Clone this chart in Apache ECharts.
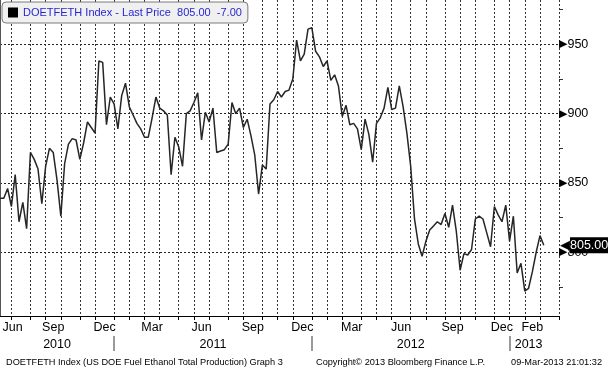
<!DOCTYPE html>
<html>
<head>
<meta charset="utf-8">
<title>DOETFETH Index</title>
<script src="https://cdn.jsdelivr.net/npm/echarts@6/dist/echarts.min.js"></script>
<style>
  html, body { margin: 0; padding: 0; background: #fff; }
  #chart_1 { width: 608px; height: 368px; }
</style>
</head>
<body>
<div id="chart_1"></div>
<script>
// weekly readings (Fridays), US DOE fuel ethanol production, thousand b/d
var startDate = '2010-06-11';
var padWeeks = 4; // empty weeks on the right of the last reading
var production = [
  839, 839, 846, 833, 856, 822, 836, 817, 872, 867, 860, 835, 862, 875, 872, 852,
  826, 864, 878, 882, 881, 867, 879, 894, 890, 886, 938, 937, 892, 912, 907, 889,
  913, 922, 905, 899, 893, 889, 883, 883, 897, 912, 904, 902, 899, 856, 883, 876,
  862, 900, 902, 908, 915, 881, 901, 894, 904, 872, 873, 874, 878, 908, 900, 904,
  890, 896, 884, 870, 842, 863, 860, 907, 910, 916, 912, 916, 917, 925, 953, 938,
  943, 961, 962, 945, 941, 934, 938, 924, 928, 920, 898, 906, 892, 893, 889, 874,
  896, 885, 865, 893, 897, 904, 919, 903, 904, 920, 905, 886, 862, 824, 806, 797,
  808, 816, 819, 822, 820, 828, 818, 834, 815, 787, 799, 798, 802, 824, 826, 824,
  814, 804, 833, 827, 822, 834, 808, 826, 785, 792, 772, 774, 786, 800, 812, 805
];
var lastPrice = 805.00;
var netChange = -7.00;
var seriesName = 'DOETFETH Index - Last Price';

var yTicks = [800, 850, 900, 950];
var yMinorTicks = [775, 825, 875, 925, 975];
var monthKeys = ['2010-06', '2010-09', '2010-12', '2011-03', '2011-06', '2011-09',
                 '2011-12', '2012-03', '2012-06', '2012-09', '2012-12', '2013-02'];
var monthNames = ['Jun', 'Sep', 'Dec', 'Mar', 'Jun', 'Sep', 'Dec', 'Mar', 'Jun', 'Sep', 'Dec', 'Feb'];
var yearNames = ['2010', '2011', '2012', '2013'];

var footLeft = 'DOETFETH Index (US DOE Fuel Ethanol Total Production) Graph 3';
var footMid = 'Copyright\u00a9 2013 Bloomberg Finance L.P.';
var footRight = '09-Mar-2013 21:01:32';

function pad2(n) { return n < 10 ? '0' + n : '' + n; }

var weeks = [];
var t0 = new Date(startDate + 'T00:00:00Z').getTime();
for (var i = 0; i < production.length + padWeeks; i++) {
    var d = new Date(t0 + i * 7 * 86400000);
    weeks.push(d.getUTCFullYear() + '-' + pad2(d.getUTCMonth() + 1) + '-' + pad2(d.getUTCDate()));
}
var values = production.slice();
for (var k = 0; k < padWeeks; k++) values.push(null);

// first weekly point of every month and year
var monthStart = {};
var monthStartList = [];
var isMonthStart = [];
var yearStart = [];
for (var i = 0; i < weeks.length; i++) {
    var key = weeks[i].slice(0, 7);
    if (!(key in monthStart)) {
        monthStart[key] = i;
        monthStartList.push(i);
        isMonthStart.push(i > 0);
        if (i > 0 && weeks[i].slice(0, 4) !== weeks[i - 1].slice(0, 4)) yearStart.push(i);
    } else {
        isMonthStart.push(false);
    }
}

// month labels sit in the middle of their month
var labelText = {};
var monthPos = [];
monthKeys.forEach(function (key, n) {
    var s = monthStart[key];
    var e = weeks.length - 1;
    for (var j = 0; j < monthStartList.length; j++) {
        if (monthStartList[j] > s) { e = monthStartList[j]; break; }
    }
    var p = Math.max((s + e) / 2, 3.3);
    monthPos.push(p);
    labelText[p.toFixed(2)] = monthNames[n];
});
var yearPos = [];
yearNames.forEach(function (y, n) {
    var s = n === 0 ? 0 : yearStart[n - 1];
    var e = n < yearStart.length ? yearStart[n] : production.length;
    var p = (s + e) / 2;
    yearPos.push(p);
    labelText[p.toFixed(2)] = y;
});

var tickFn = function (index) { return isMonthStart[index]; };
var fontName = 'Liberation Sans, Arial, sans-serif';
var gridRight = 49;
var plotWidth = 608 - gridRight;

var myChart = echarts.init(document.getElementById('chart_1'));
var option = {
    animation: false,
    backgroundColor: '#fff',
    textStyle: { fontFamily: fontName },
    title: [
        { text: footLeft, left: 1, top: 353, textStyle: { fontSize: 9.2, fontWeight: 'normal', color: '#000', fontFamily: fontName } },
        { text: footMid, left: 311, top: 353, textStyle: { fontSize: 9.2, fontWeight: 'normal', color: '#000', fontFamily: fontName } },
        { text: footRight, right: 1, top: 353, textStyle: { fontSize: 9.2, fontWeight: 'normal', color: '#000', fontFamily: fontName } }
    ],
    legend: {
        left: 2,
        top: 2,
        padding: [5, 6, 5, 6],
        backgroundColor: '#f0f0f0',
        borderColor: '#7a7a7a',
        borderWidth: 1,
        borderRadius: 4,
        itemWidth: 10,
        itemHeight: 10,
        selectedMode: false,
        data: [{ name: seriesName, icon: 'rect', itemStyle: { color: '#000' } }],
        formatter: function (name) {
            return name + '  ' + lastPrice.toFixed(2) + '  ' + netChange.toFixed(2);
        },
        textStyle: { color: '#2727d0', fontSize: 11, fontFamily: fontName }
    },
    grid: { left: 0, right: gridRight, top: 0, bottom: 52, outerBoundsMode: 'none' },
    xAxis: [
        {
            type: 'category',
            data: weeks,
            boundaryGap: false,
            axisLine: { show: true, lineStyle: { color: '#000', width: 1 } },
            axisTick: { show: true, interval: tickFn, length: 4, lineStyle: { color: '#000' } },
            axisLabel: { show: false },
            splitLine: { show: true, interval: tickFn, lineStyle: { color: '#333', type: [2, 2], width: 1 } }
        },
        {
            type: 'value',
            min: 0,
            max: weeks.length - 1,
            position: 'bottom',
            axisLine: { show: false },
            axisTick: { show: false },
            splitLine: { show: false },
            axisLabel: {
                customValues: monthPos,
                margin: 5,
                fontSize: 12.5,
                color: '#000',
                formatter: function (v) { return labelText[v.toFixed(2)] || ''; }
            }
        },
        {
            type: 'value',
            min: 0,
            max: weeks.length - 1,
            position: 'bottom',
            offset: 20,
            axisLine: { show: false },
            axisTick: { show: true, customValues: yearStart, length: 15, lineStyle: { color: '#9a9a9a', width: 2 } },
            splitLine: { show: false },
            axisLabel: {
                customValues: yearPos,
                margin: 2,
                fontSize: 12.5,
                color: '#000',
                formatter: function (v) { return labelText[v.toFixed(2)] || ''; }
            }
        }
    ],
    yAxis: [
        {
            type: 'value',
            position: 'right',
            min: 754,
            max: 982,
            axisLine: { show: true, lineStyle: { color: '#555', width: 2 } },
            axisTick: { show: false, customValues: yTicks },
            axisLabel: {
                customValues: yTicks,
                margin: 0,
                color: '#000',
                formatter: function (v) { return '{t|\u25b6}{v|' + v + '}'; },
                rich: {
                    t: { fontFamily: 'DejaVu Sans', fontSize: 11, color: '#000' },
                    v: { fontSize: 12.5, color: '#000', fontFamily: fontName }
                }
            },
            splitLine: { show: true, lineStyle: { color: '#222', type: [2, 2], width: 1 } }
        },
        {
            // minor ticks, moved over onto the right edge of the plot
            type: 'value',
            position: 'left',
            offset: -plotWidth,
            min: 754,
            max: 982,
            axisLine: { show: false },
            axisTick: { show: true, inside: true, customValues: yMinorTicks, length: 4, lineStyle: { color: '#333' } },
            axisLabel: { show: false },
            splitLine: { show: false }
        }
    ],
    series: [
        {
            name: seriesName,
            type: 'line',
            data: values,
            xAxisIndex: 0,
            yAxisIndex: 0,
            symbol: 'none',
            lineStyle: { color: '#262626', width: 1.5 },
            itemStyle: { color: '#262626' },
            markLine: {
                silent: true,
                symbol: ['none', 'none'],
                lineStyle: { color: 'rgba(0,0,0,0)', width: 0, type: 'solid' },
                data: [{ yAxis: lastPrice }],
                label: {
                    show: true,
                    position: 'end',
                    distance: 1,
                    formatter: '{a|\u25c0}{b|' + lastPrice.toFixed(2) + '}',
                    rich: {
                        a: { fontFamily: 'DejaVu Sans', fontSize: 13, color: '#000', lineHeight: 15 },
                        b: { backgroundColor: '#000', color: '#fff', fontSize: 12.5, fontFamily: fontName, padding: [2, 3, 1, 0], lineHeight: 12 }
                    }
                }
            }
        }
    ]
};

if (option && typeof option === 'object')
    myChart.setOption(option);
window.addEventListener('resize', function () {
    myChart.resize();
});
</script>
</body>
</html>
